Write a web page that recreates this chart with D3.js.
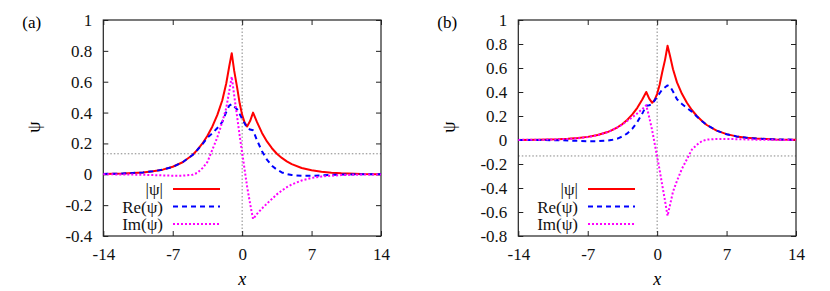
<!DOCTYPE html>
<html>
<head>
<meta charset="utf-8">
<style>
  body { margin: 0; background: #fff; }
  svg { font-family: "Liberation Serif", "DejaVu Serif", serif; }
</style>
</head>
<body>
<script src="https://cdn.jsdelivr.net/npm/d3@7"></script>
<div id="chart"></div>
<script>

// panel (a)
var xsA = [-14,-12,-10,-9,-8,-7,-6,-5,-4.5,-4,-3.5,-3,-2.5,-2,-1.6,-1.3,-1.05,-0.8,-0.5,-0.25,
           0,0.25,0.5,0.8,1.1,1.5,2,2.5,3,3.5,4,4.5,5,6,7,8,9,10,12,14];
var absA = [0.002,0.005,0.012,0.019,0.030,0.049,0.078,0.125,0.16,0.20,0.25,0.31,0.385,0.48,0.59,0.70,0.785,0.67,0.56,0.46,
            0.385,0.335,0.31,0.345,0.40,0.338,0.268,0.213,0.169,0.133,0.106,0.084,0.066,0.041,0.026,0.016,0.010,0.006,0.002,0.001];
var reA  = [0.002,0.005,0.012,0.019,0.030,0.048,0.078,0.125,0.159,0.196,0.237,0.266,0.30,0.339,0.404,0.445,0.455,0.44,0.42,0.39,
            0.36,0.33,0.30,0.29,0.285,0.22,0.15,0.095,0.055,0.03,0.012,0.002,-0.005,-0.01,-0.01,-0.007,-0.004,-0.002,0,0];
var imA  = [0,-0.001,-0.003,-0.005,-0.007,-0.009,-0.009,-0.003,0.01,0.04,0.08,0.16,0.24,0.34,0.43,0.54,0.632,0.51,0.37,0.25,
            0.14,0.03,-0.08,-0.19,-0.29,-0.257,-0.222,-0.19,-0.16,-0.13,-0.105,-0.084,-0.066,-0.04,-0.024,-0.0145,-0.009,-0.005,-0.002,-0.001];

// panel (b)
var xsB = [-14,-12,-10,-9,-8,-7,-6,-5,-4.5,-4,-3.5,-3,-2.5,-2,-1.5,-1.1,-0.8,-0.5,-0.25,0,
           0.25,0.5,0.8,1.05,1.3,1.6,2,2.5,3,3.5,4,4.5,5,6,7,8,9,10,12,14];
var absB = [0.001,0.002,0.006,0.010,0.016,0.026,0.041,0.066,0.084,0.106,0.133,0.169,0.213,0.268,0.338,0.40,0.345,0.31,0.335,0.385,
            0.46,0.56,0.67,0.785,0.70,0.59,0.48,0.385,0.31,0.25,0.20,0.16,0.125,0.078,0.049,0.030,0.019,0.012,0.005,0.002];
var reB  = [0,0,-0.002,-0.004,-0.007,-0.01,-0.01,-0.005,0.002,0.012,0.03,0.055,0.095,0.15,0.22,0.285,0.29,0.30,0.33,0.36,
            0.39,0.42,0.44,0.455,0.445,0.404,0.339,0.30,0.266,0.237,0.196,0.159,0.125,0.078,0.048,0.030,0.019,0.012,0.005,0.002];
var imB  = [0.001,0.002,0.005,0.009,0.0145,0.024,0.04,0.066,0.084,0.105,0.13,0.16,0.19,0.222,0.257,0.29,0.19,0.08,-0.03,-0.14,
            -0.25,-0.37,-0.51,-0.632,-0.54,-0.43,-0.34,-0.24,-0.16,-0.08,-0.04,-0.01,0.003,0.009,0.009,0.007,0.005,0.003,0.001,0];

var xTicks = [-14, -7, 0, 7, 14];
var yTicksA = [-0.4, -0.2, 0, 0.2, 0.4, 0.6, 0.8, 1];
var yTicksB = [-0.8, -0.6, -0.4, -0.2, 0, 0.2, 0.4, 0.6, 0.8, 1];
var legendNames = ["|\u03c8|", "Re(\u03c8)", "Im(\u03c8)"];

var W = 830, H = 291;
var svg = d3.select("#chart").append("svg")
  .attr("width", W).attr("height", H);

var styles = [
  {color: "#ff0000", dash: null},
  {color: "#0000ff", dash: "5,4"},
  {color: "#ff00ff", dash: "2,2"}
];

function drawPanel(p) {
  var x = d3.scaleLinear().domain([-14, 14]).range([p.left, p.right]);
  var y = d3.scaleLinear().domain(p.ydom).range([236, 20]);
  var g = svg.append("g");

  // dotted reference lines
  g.append("line")
    .attr("x1", x(0)).attr("x2", x(0)).attr("y1", y(p.ydom[0])).attr("y2", y(p.ydom[1]))
    .attr("stroke", "#666").attr("stroke-width", 0.8).attr("stroke-dasharray", "1.5,2");
  g.append("line")
    .attr("x1", x(-14)).attr("x2", x(14)).attr("y1", y(p.href)).attr("y2", y(p.href))
    .attr("stroke", "#666").attr("stroke-width", 0.8).attr("stroke-dasharray", "1.5,2");

  // axes with inward ticks, mirrored
  var fmt = function(d) { return String(Math.round(d * 10) / 10); };
  var ax = g.append("g").attr("transform", "translate(0,236)")
    .call(d3.axisBottom(x).tickValues(xTicks).tickSizeInner(-5).tickSizeOuter(0).tickPadding(12).tickFormat(fmt));
  var axT = g.append("g").attr("transform", "translate(0,20)")
    .call(d3.axisTop(x).tickValues(xTicks).tickSizeInner(-5).tickSizeOuter(0).tickFormat(""));
  var ay = g.append("g").attr("transform", "translate(" + p.left + ",0)")
    .call(d3.axisLeft(y).tickValues(p.yticks).tickSizeInner(-5).tickSizeOuter(0).tickPadding(11).tickFormat(fmt));
  var ayR = g.append("g").attr("transform", "translate(" + p.right + ",0)")
    .call(d3.axisRight(y).tickValues(p.yticks).tickSizeInner(-5).tickSizeOuter(0).tickFormat(""));
  [ax, axT, ay, ayR].forEach(function(a) {
    a.select(".domain").remove();
    a.selectAll("line").attr("stroke", "#222");
    a.selectAll("text").attr("font-size", "17px").attr("fill", "#111")
      .attr("font-family", "Liberation Serif, serif");
  });
  g.append("rect")
    .attr("x", p.left).attr("y", 20).attr("width", p.right - p.left).attr("height", 216)
    .attr("fill", "none").attr("stroke", "#222").attr("stroke-width", 1.2);

  // curves
  var series = [p.abs, p.re, p.im];
  series.forEach(function(vals, i) {
    var line = d3.line()
      .x(function(d, j) { return x(p.xs[j]); })
      .y(function(d) { return y(d); });
    g.append("path").datum(vals)
      .attr("d", line)
      .attr("fill", "none")
      .attr("stroke", styles[i].color)
      .attr("stroke-width", 2)
      .attr("stroke-linejoin", "round")
      .attr("stroke-dasharray", styles[i].dash);
  });

  // legend
  legendNames.forEach(function(name, i) {
    var ly = 189 + i * 17.5;
    g.append("text")
      .attr("x", p.legX - 10).attr("y", ly + 6)
      .attr("text-anchor", "end")
      .attr("font-size", "17px")
      .attr("fill", "#111")
      .text(name);
    g.append("line")
      .attr("x1", p.legX).attr("x2", p.legX + 47)
      .attr("y1", ly).attr("y2", ly)
      .attr("stroke", styles[i].color).attr("stroke-width", 2)
      .attr("stroke-dasharray", styles[i].dash);
  });

  // labels
  g.append("text")
    .attr("x", (p.left + p.right) / 2).attr("y", 285)
    .attr("text-anchor", "middle").attr("font-size", "18px").attr("font-style", "italic")
    .text("x");
  g.append("text")
    .attr("transform", "translate(" + (p.left - 63) + ",127) rotate(-90)")
    .attr("text-anchor", "middle").attr("font-size", "18px")
    .text("\u03c8");
  g.append("text")
    .attr("x", p.left - 81).attr("y", 28)
    .attr("font-size", "17px")
    .text(p.tag);
}

drawPanel({
  left: 103.3, right: 381, ydom: [-0.4, 1], yticks: yTicksA,
  href: 0.133, xs: xsA, abs: absA, re: reA, im: imA,
  legX: 173, tag: "(a)"
});
drawPanel({
  left: 518.3, right: 796, ydom: [-0.8, 1], yticks: yTicksB,
  href: -0.133, xs: xsB, abs: absB, re: reB, im: imB,
  legX: 588, tag: "(b)"
});
</script>
</body>
</html>
